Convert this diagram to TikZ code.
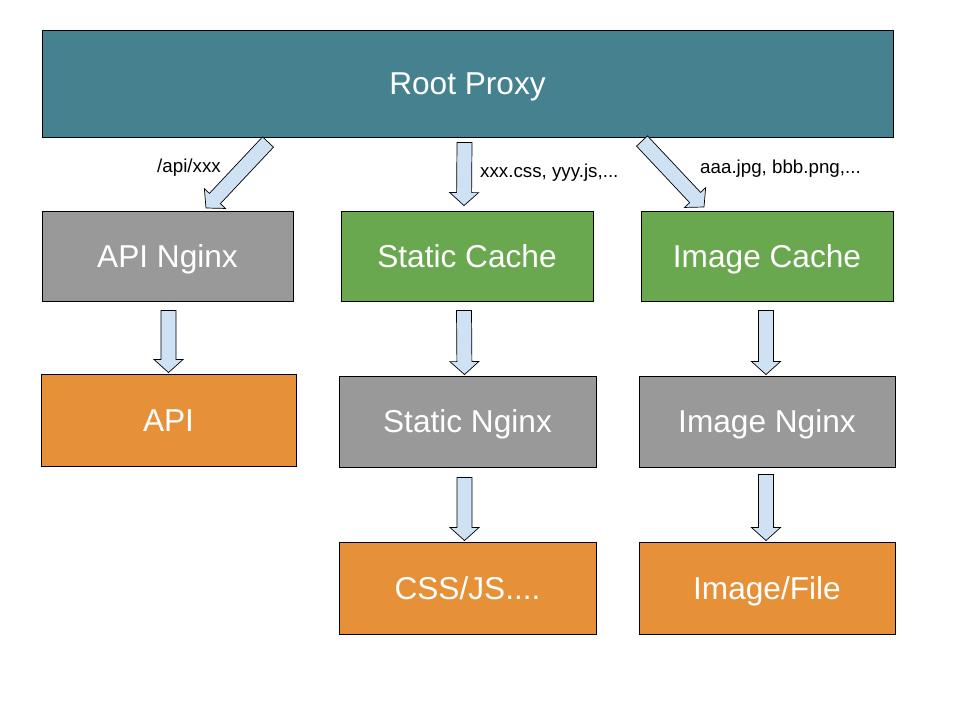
\documentclass[tikz,border=0pt]{standalone}
\usepackage{fontspec}
\setmainfont{Liberation Sans}
\usepackage{tikz}
\usetikzlibrary{calc}

\definecolor{proxyteal}{HTML}{45818E}
\definecolor{cachegreen}{HTML}{6AA84F}
\definecolor{nginxgray}{HTML}{999999}
\definecolor{backorange}{HTML}{E69138}
\definecolor{arrowblue}{HTML}{CFE2F3}

\begin{document}
\begin{tikzpicture}[x=0.03cm,y=-0.03cm,
  box/.style={draw=black,line width=0.8pt,text=white,inner sep=0pt,
    text height=22pt,text depth=2.4pt,font=\fontsize{27}{32}\selectfont},
  lbl/.style={anchor=base west,inner sep=0pt,font=\fontsize{16}{19}\selectfont}]
\useasboundingbox (0,0) rectangle (960,720);

% boxes
\node[box,fill=proxyteal,minimum width=25.53cm,minimum height=3.21cm] (root) at (467.5,83.5) {Root Proxy};

\node[box,fill=nginxgray,minimum width=7.53cm,minimum height=2.7cm] (apinginx) at (167.5,256) {API Nginx};
\node[box,fill=cachegreen,minimum width=7.56cm,minimum height=2.7cm] (staticcache) at (467,256) {Static Cache};
\node[box,fill=cachegreen,minimum width=7.56cm,minimum height=2.7cm] (imagecache) at (767,256) {Image Cache};

\node[box,fill=backorange,minimum width=7.65cm,minimum height=2.76cm] (api) at (168.5,420) {API};
\node[box,fill=nginxgray,minimum width=7.71cm,minimum height=2.73cm] (staticnginx) at (467.5,421.5) {Static Nginx};
\node[box,fill=nginxgray,minimum width=7.68cm,minimum height=2.73cm] (imagenginx) at (767,421.5) {Image Nginx};

\node[box,fill=backorange,minimum width=7.71cm,minimum height=2.76cm] (cssjs) at (467.5,588) {CSS/JS....};
\node[box,fill=backorange,minimum width=7.68cm,minimum height=2.76cm] (imagefile) at (767,588) {Image/File};

% arrow ends
\coordinate (s1) at (268,142);
\coordinate (e1) at (206,208);
\coordinate (s2) at ($(root.south)+(-3,5)$);
\coordinate (e2) at ($(staticcache.north)+(-3,-5)$);
\coordinate (s3) at (642,141);
\coordinate (e3) at (704,207);
\coordinate (s4) at ($(apinginx.south)+(1,9)$);
\coordinate (e4) at ($(api.north)+(0,-1)$);
\coordinate (s5) at ($(staticcache.south)+(-3,9)$);
\coordinate (e5) at ($(staticnginx.north)+(-3,-1)$);
\coordinate (s6) at ($(imagecache.south)+(-1,9)$);
\coordinate (e6) at ($(imagenginx.north)+(-1,-1)$);
\coordinate (s7) at ($(staticnginx.south)+(-3,10)$);
\coordinate (e7) at ($(cssjs.north)+(-3,-1)$);
\coordinate (s8) at ($(imagenginx.south)+(-1,7)$);
\coordinate (e8) at ($(imagefile.north)+(-1,-1)$);

% block arrows
\foreach \s/\e in {s1/e1,s2/e2,s3/e3,s4/e4,s5/e5,s6/e6,s7/e7,s8/e8} {
\coordinate (hb) at ($(\e)!0.39cm!(\s)$);
\draw[fill=arrowblue,line width=0.6pt,line join=miter]
  ($(\s)!0.225cm!90:(\e)$) -- ($(hb)!0.225cm!90:(\e)$)
  -- ($(hb)!0.435cm!90:(\e)$) -- (\e)
  -- ($(hb)!0.435cm!-90:(\e)$) -- ($(hb)!0.225cm!-90:(\e)$)
  -- ($(\s)!0.225cm!-90:(\e)$) -- cycle;
}

% path labels
\node[lbl] (apilbl) at (157,172) {/api/xxx};
\node[lbl] (staticlbl) at (480,177) {xxx.css, yyy.js,...};
\node[lbl] (imagelbl) at (700,173) {aaa.jpg, bbb.png,...};
\end{tikzpicture}
\end{document}
